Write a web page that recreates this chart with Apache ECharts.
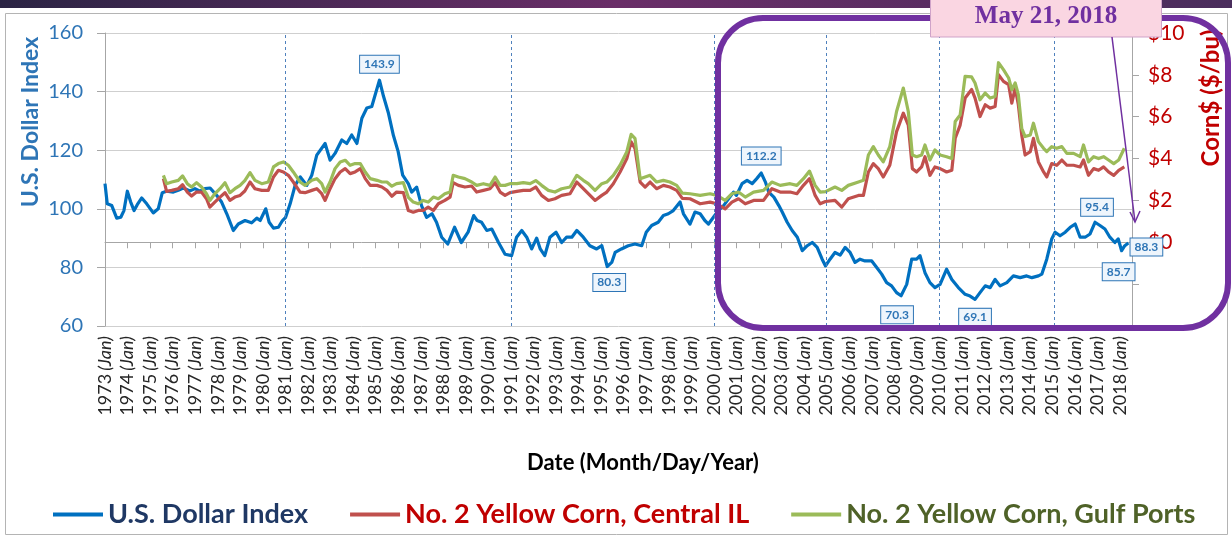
<!DOCTYPE html>
<html>
<head>
<meta charset="utf-8">
<title>U.S. Dollar Index and Corn Prices</title>
<script src="https://cdn.jsdelivr.net/npm/echarts@6/dist/echarts.min.js"></script>
<style>
  html, body { margin: 0; padding: 0; background: #fff; }
  #chart { width: 1232px; height: 539px; }
</style>
</head>
<body>
<div id="chart"></div>
<script>
// dates are decimal years (1973.5 = mid 1973)
const dollarDates = [
  1973.0, 1973.1, 1973.3, 1973.52, 1973.7, 1973.84, 1973.99, 1974.14, 1974.29, 1974.43,
  1974.63, 1974.85, 1975.14, 1975.36, 1975.54, 1975.73, 1976.03, 1976.25, 1976.47, 1976.77,
  1976.99, 1977.21, 1977.43, 1977.66, 1977.95, 1978.17, 1978.4, 1978.69, 1978.91, 1979.21,
  1979.5, 1979.73, 1979.88, 1980.13, 1980.28, 1980.47, 1980.69, 1980.87, 1981.01, 1981.21,
  1981.43, 1981.66, 1981.95, 1982.17, 1982.39, 1982.76, 1982.98, 1983.2, 1983.5, 1983.72,
  1983.94, 1984.17, 1984.39, 1984.61, 1984.83, 1985.17, 1985.35, 1985.57, 1985.79, 1986.0,
  1986.2, 1986.45, 1986.6, 1986.82, 1987.04, 1987.26, 1987.5, 1987.7, 1987.93, 1988.2,
  1988.5, 1988.8, 1989.1, 1989.35, 1989.5, 1989.7, 1989.93, 1990.15, 1990.45, 1990.74,
  1991.03, 1991.25, 1991.48, 1991.7, 1991.92, 1992.14, 1992.3, 1992.5, 1992.73, 1993.0,
  1993.25, 1993.47, 1993.7, 1993.92, 1994.21, 1994.5, 1994.8, 1995.03, 1995.27, 1995.47,
  1995.62, 1995.9, 1996.2, 1996.5, 1996.8, 1997.0, 1997.24, 1997.53, 1997.76, 1997.98,
  1998.2, 1998.5, 1998.65, 1998.94, 1999.16, 1999.39, 1999.6, 1999.76, 1999.98, 2000.2,
  2000.43, 2000.65, 2000.87, 2001.0, 2001.25, 2001.47, 2001.7, 2001.9, 2002.1, 2002.28,
  2002.43, 2002.66, 2002.88, 2003.03, 2003.25, 2003.47, 2003.7, 2003.92, 2004.14, 2004.36,
  2004.58, 2004.8, 2004.95, 2005.15, 2005.37, 2005.6, 2005.82, 2006.04, 2006.26, 2006.48,
  2006.7, 2007.0, 2007.22, 2007.44, 2007.66, 2007.88, 2008.1, 2008.3, 2008.55, 2008.77,
  2008.99, 2009.14, 2009.36, 2009.58, 2009.8, 2010.03, 2010.32, 2010.55, 2010.84, 2011.14,
  2011.36, 2011.58, 2011.8, 2012.03, 2012.25, 2012.47, 2012.69, 2012.99, 2013.28, 2013.58,
  2013.87, 2014.1, 2014.39, 2014.54, 2014.76, 2014.98, 2015.13, 2015.35, 2015.58, 2015.8,
  2016.02, 2016.24, 2016.46, 2016.68, 2016.9, 2017.12, 2017.34, 2017.56, 2017.78, 2017.93,
  2018.08, 2018.22, 2018.38
];
const dollarIndex = [
  108.6, 101.7, 101.1, 96.8, 97.1, 99.4, 106.0, 102.3, 99.4, 101.4,
  103.7, 101.7, 98.6, 100.0, 105.5, 106.0, 105.7, 106.3, 107.1, 106.1,
  106.9, 106.0, 106.9, 107.1, 104.6, 102.3, 98.3, 92.6, 94.8, 96.0,
  95.2, 96.8, 96.0, 100.0, 95.4, 93.4, 93.7, 96.0, 97.1, 101.7,
  108.0, 110.9, 108.0, 111.5, 118.3, 122.3, 116.6, 118.9, 123.5, 122.3,
  125.2, 122.3, 130.9, 134.4, 134.9, 143.9, 138.4, 132.6, 125.0, 119.5,
  111.5, 108.6, 105.7, 107.4, 101.0, 97.1, 98.3, 95.4, 90.3, 88.0,
  93.7, 88.5, 92.0, 97.7, 96.0, 95.4, 92.6, 93.1, 88.5, 84.5,
  84.0, 90.3, 92.6, 90.3, 86.3, 90.0, 86.3, 84.0, 90.3, 92.0,
  88.5, 90.3, 90.3, 92.6, 90.3, 87.4, 86.3, 87.4, 80.3, 81.7,
  85.1, 86.3, 87.4, 88.0, 87.4, 92.0, 94.3, 95.4, 97.7, 98.3,
  99.4, 102.3, 98.3, 94.8, 98.9, 98.3, 96.0, 94.8, 97.1, 99.4,
  101.1, 103.4, 105.7, 104.6, 108.6, 109.7, 108.6, 110.3, 112.2, 109.2,
  105.7, 104.0, 101.1, 98.9, 95.4, 92.6, 90.3, 85.7, 87.4, 88.5,
  86.8, 82.8, 80.5, 82.8, 85.1, 84.2, 86.8, 85.1, 81.7, 82.8,
  82.2, 82.2, 80.0, 77.7, 74.8, 73.7, 71.4, 70.3, 74.2, 82.8,
  82.8, 84.0, 78.2, 74.8, 73.1, 74.2, 79.4, 75.9, 73.1, 70.8,
  70.2, 69.1, 71.4, 73.7, 73.1, 75.9, 73.7, 74.8, 77.1, 76.5,
  77.1, 76.5, 77.1, 77.7, 82.8, 89.7, 92.0, 90.8, 92.0, 93.7,
  94.8, 90.3, 90.3, 91.4, 95.4, 94.3, 93.1, 90.3, 88.5, 89.7,
  85.7, 87.4, 88.3
];

const cornDates = [
  1975.59, 1975.73, 1975.96, 1976.25, 1976.44, 1976.65, 1976.84, 1977.06, 1977.28, 1977.5,
  1977.65, 1977.87, 1978.1, 1978.32, 1978.54, 1978.76, 1978.99, 1979.2, 1979.43, 1979.65,
  1979.95, 1980.24, 1980.47, 1980.69, 1980.91, 1981.13, 1981.35, 1981.65, 1981.87, 1982.17,
  1982.39, 1982.61, 1982.76, 1982.98, 1983.2, 1983.43, 1983.65, 1983.87, 1984.09, 1984.32,
  1984.54, 1984.76, 1985.06, 1985.28, 1985.5, 1985.72, 1985.93, 1986.23, 1986.45, 1986.67,
  1986.89, 1987.11, 1987.33, 1987.56, 1987.78, 1988.07, 1988.3, 1988.44, 1988.67, 1988.96,
  1989.26, 1989.48, 1989.78, 1990.07, 1990.3, 1990.52, 1990.74, 1990.96, 1991.26, 1991.55,
  1991.85, 1992.1, 1992.36, 1992.66, 1992.95, 1993.25, 1993.62, 1993.92, 1994.21, 1994.43,
  1994.73, 1995.03, 1995.25, 1995.54, 1995.84, 1996.14, 1996.33, 1996.5, 1996.73, 1996.95,
  1997.17, 1997.46, 1997.76, 1998.05, 1998.35, 1998.6, 1998.94, 1999.39, 1999.83, 2000.13,
  2000.5, 2000.8, 2001.09, 2001.39, 2001.76, 2002.2, 2002.57, 2002.94, 2003.38, 2003.68,
  2003.97, 2004.24, 2004.49, 2004.71, 2004.95, 2005.37, 2005.67, 2005.96, 2006.41, 2006.63,
  2006.85, 2007.07, 2007.29, 2007.51, 2007.8, 2008.1, 2008.4, 2008.62, 2008.8, 2008.99,
  2009.21, 2009.36, 2009.58, 2009.8, 2010.03, 2010.32, 2010.55, 2010.7, 2010.92, 2011.14,
  2011.43, 2011.58, 2011.8, 2012.03, 2012.25, 2012.47, 2012.62, 2012.84, 2013.07, 2013.21,
  2013.36, 2013.5, 2013.65, 2013.8, 2014.03, 2014.17, 2014.39, 2014.62, 2014.76, 2014.98,
  2015.2, 2015.43, 2015.65, 2015.95, 2016.24, 2016.39, 2016.61, 2016.84, 2017.06, 2017.28,
  2017.5, 2017.73, 2017.95, 2018.2
];
// $/bu
const centralIL = [
  3.04, 2.43, 2.48, 2.56, 2.75, 2.40, 2.21, 2.40, 2.40, 2.08,
  1.68, 1.92, 2.16, 2.37, 2.00, 2.16, 2.24, 2.45, 2.88, 2.56,
  2.48, 2.48, 3.12, 3.44, 3.36, 3.20, 2.88, 2.40, 2.37, 2.48,
  2.56, 2.32, 2.00, 2.56, 3.04, 3.36, 3.52, 3.28, 3.36, 3.52,
  3.04, 2.72, 2.72, 2.64, 2.48, 2.20, 2.40, 2.37, 1.52, 1.44,
  1.52, 1.52, 1.68, 1.52, 1.84, 2.00, 2.16, 2.85, 2.72, 2.64,
  2.69, 2.40, 2.48, 2.56, 2.85, 2.40, 2.24, 2.37, 2.43, 2.48,
  2.48, 2.64, 2.24, 2.00, 2.08, 2.24, 2.32, 2.88, 2.56, 2.32,
  2.00, 2.24, 2.40, 2.80, 3.36, 4.00, 4.80, 4.49, 2.88, 2.64,
  2.88, 2.56, 2.72, 2.64, 2.48, 2.10, 2.08, 1.84, 1.92, 1.84,
  1.60, 1.92, 2.08, 1.84, 2.00, 2.00, 2.56, 2.40, 2.40, 2.32,
  2.72, 3.04, 2.24, 1.84, 1.95, 2.00, 1.68, 2.08, 2.24, 2.24,
  3.36, 3.76, 3.52, 3.12, 3.68, 5.29, 6.17, 5.60, 3.52, 3.36,
  3.60, 4.09, 3.20, 3.60, 3.52, 3.36, 3.44, 4.97, 5.60, 6.89,
  7.30, 6.89, 6.01, 6.57, 6.41, 6.49, 8.01, 7.69, 7.53, 6.65,
  7.37, 6.57, 5.13, 4.17, 4.33, 4.97, 3.84, 3.36, 3.12, 3.76,
  3.68, 3.93, 3.68, 3.68, 3.60, 3.93, 3.20, 3.52, 3.44, 3.60,
  3.36, 3.20, 3.44, 3.60
];
const gulfPorts = [
  3.20, 2.80, 2.88, 2.96, 3.17, 2.80, 2.64, 2.85, 2.64, 2.32,
  2.00, 2.32, 2.56, 2.85, 2.37, 2.56, 2.72, 2.95, 3.33, 2.96,
  2.80, 2.88, 3.60, 3.76, 3.84, 3.68, 3.36, 2.88, 2.72, 2.96,
  3.04, 2.80, 2.40, 2.88, 3.52, 3.84, 3.92, 3.68, 3.76, 3.76,
  3.36, 3.04, 2.96, 2.88, 2.88, 2.68, 2.80, 2.85, 2.15, 1.92,
  1.84, 2.00, 1.92, 2.16, 2.08, 2.32, 2.40, 3.20, 3.12, 3.04,
  2.88, 2.72, 2.80, 2.72, 3.12, 2.72, 2.72, 2.80, 2.80, 2.85,
  2.80, 2.95, 2.72, 2.48, 2.40, 2.56, 2.64, 3.20, 2.96, 2.80,
  2.48, 2.80, 2.88, 3.20, 3.68, 4.33, 5.16, 4.97, 3.04, 3.12,
  3.20, 2.88, 2.96, 2.88, 2.72, 2.35, 2.32, 2.24, 2.32, 2.24,
  2.00, 2.32, 2.40, 2.16, 2.40, 2.48, 2.88, 2.72, 2.80, 2.72,
  3.04, 3.40, 2.72, 2.40, 2.42, 2.64, 2.48, 2.72, 2.88, 2.96,
  4.17, 4.57, 4.17, 3.84, 4.57, 6.25, 7.37, 6.25, 4.17, 4.09,
  4.17, 4.65, 3.93, 4.41, 4.17, 4.09, 4.00, 5.77, 6.09, 7.93,
  7.90, 7.61, 6.81, 7.13, 6.89, 6.97, 8.58, 8.25, 7.85, 7.29,
  7.61, 7.05, 5.45, 5.05, 5.13, 5.69, 4.81, 4.49, 4.33, 4.57,
  4.49, 4.57, 4.25, 4.25, 4.09, 4.65, 3.84, 4.09, 4.00, 4.09,
  3.93, 3.76, 3.93, 4.49
];

// boxed values on the dollar line
const calloutDates = [1985.17, 2002.1, 1995.27, 2008.3, 2011.58, 2016.9, 2018.08, 2018.38];
const calloutValues = [143.9, 112.2, 80.3, 70.3, 69.1, 95.4, 85.7, 88.3];

// dotted year markers
const markerYears = [1981, 1991, 2000, 2005, 2010, 2015.1];

const seriesNames = ['U.S. Dollar Index', 'No. 2 Yellow Corn, Central IL', 'No. 2 Yellow Corn, Gulf Ports'];

const FONT = 'Lato, "Liberation Sans", sans-serif';
const pairs = (xs, ys) => xs.map((x, i) => [x, ys[i]]);

// label offsets (px) for the boxed values, same order as calloutValues
const calloutOffsets = [[0, -16], [0, -17], [2, 16], [-4, 19], [0, 18], [2, -15], [-3, 21], [18, 4]];

const myChart = echarts.init(document.getElementById('chart'));

const option = {
  animation: false,
  backgroundColor: '#fff',
  grid: { left: 105, right: 100, top: 33, bottom: 213 },
  legend: {
    left: 48,
    top: 496,
    icon: 'rect',
    itemWidth: 50,
    itemHeight: 4,
    itemGap: 42,
    textStyle: { fontSize: 27, fontWeight: 'bold', fontFamily: FONT },
    data: [
      { name: seriesNames[0], textStyle: { color: '#1f3864' } },
      { name: seriesNames[1], textStyle: { color: '#c00000' } },
      { name: seriesNames[2], textStyle: { color: '#4f6228' } }
    ]
  },
  xAxis: {
    type: 'value',
    min: 1973,
    max: 2018.54,
    interval: 1,
    splitLine: { show: false },
    axisLine: { lineStyle: { color: '#a6a6a6', width: 1 } },
    axisTick: { length: 6, lineStyle: { color: '#a6a6a6' } },
    axisLabel: {
      rotate: 90,
      margin: 10,
      showMaxLabel: false,
      color: '#262626',
      fontFamily: FONT,
      formatter: (v) => Number.isInteger(v) ? '{y|' + v + '} {m|(Jan)}' : '',
      rich: {
        y: { fontSize: 18, color: '#262626', fontFamily: FONT },
        m: { fontSize: 18, color: '#262626', fontStyle: 'italic', fontFamily: FONT }
      }
    }
  },
  yAxis: [
    {
      type: 'value',
      min: 60,
      max: 160,
      interval: 20,
      axisLine: { show: true, lineStyle: { color: '#a6a6a6' } },
      axisTick: { show: true, length: 8, lineStyle: { color: '#a6a6a6' } },
      splitLine: { lineStyle: { color: '#cfcfcf', width: 1 } },
      axisLabel: { color: '#2e75b6', fontSize: 20, margin: 22, fontFamily: FONT }
    },
    {
      type: 'value',
      position: 'right',
      min: -4,
      max: 10,
      interval: 2,
      axisLine: { show: true, lineStyle: { color: '#a6a6a6' } },
      axisTick: { show: true, length: 7, lineStyle: { color: '#a6a6a6' } },
      splitLine: { show: false },
      axisLabel: {
        color: '#c00000',
        fontSize: 21,
        margin: 16,
        fontFamily: FONT,
        formatter: (v) => v >= 0 ? '$' + v : ''
      }
    }
  ],
  series: [
    {
      name: seriesNames[0],
      type: 'line',
      data: pairs(dollarDates, dollarIndex),
      showSymbol: false,
      color: '#0070c0',
      lineStyle: { width: 3.2, join: 'round' },
      z: 2,
      markLine: {
        silent: true,
        symbol: ['none', 'none'],
        label: { show: false },
        lineStyle: { color: '#4f81bd', type: [3, 3], width: 1 },
        data: markerYears.map((y) => ({ xAxis: y }))
      },
      markPoint: {
        symbol: 'circle',
        symbolSize: 1,
        itemStyle: { color: 'rgba(0,0,0,0)' },
        label: {
          show: true,
          position: 'inside',
          color: '#2e75b6',
          fontSize: 12,
          fontWeight: 'bold',
          fontFamily: FONT,
          backgroundColor: '#eef5fc',
          borderColor: '#2e75b6',
          borderWidth: 1,
          padding: [3, 4, 2, 4]
        },
        data: calloutValues.map((v, i) => ({
          coord: [calloutDates[i], v],
          value: v,
          label: { formatter: v.toFixed(1), offset: calloutOffsets[i] }
        }))
      }
    },
    {
      name: seriesNames[1],
      type: 'line',
      yAxisIndex: 1,
      data: pairs(cornDates, centralIL),
      showSymbol: false,
      color: '#c0504d',
      lineStyle: { width: 3.2, join: 'round' },
      z: 3
    },
    {
      name: seriesNames[2],
      type: 'line',
      yAxisIndex: 1,
      data: pairs(cornDates, gulfPorts),
      showSymbol: false,
      color: '#9bbb59',
      lineStyle: { width: 3.2, join: 'round' },
      z: 4
    }
  ],
  graphic: [
    // slide header band
    {
      type: 'rect', z: 0,
      shape: { x: 0, y: 0, width: 1232, height: 8 },
      style: {
        fill: new echarts.graphic.LinearGradient(0, 0, 1, 0, [
          { offset: 0, color: '#2b2444' },
          { offset: 0.5, color: '#6a2e68' },
          { offset: 1, color: '#4a2d5c' }
        ])
      }
    },
    // chart frame
    {
      type: 'rect', z: 0,
      shape: { x: 5.5, y: 13.5, width: 1222, height: 521 },
      style: { fill: 'none', stroke: '#b4b4b4', lineWidth: 1 }
    },
    {
      type: 'text', z: 10,
      x: 31, y: 122, rotation: Math.PI / 2,
      style: {
        text: 'U.S. Dollar Index', fill: '#2e75b6',
        font: 'bold 23px ' + FONT, textAlign: 'center', textVerticalAlign: 'middle'
      }
    },
    {
      type: 'text', z: 10,
      x: 1211, y: 98, rotation: Math.PI / 2,
      style: {
        text: 'Corn$ ($/bu)', fill: '#c00000',
        font: 'bold 24px ' + FONT, textAlign: 'center', textVerticalAlign: 'middle'
      }
    },
    {
      type: 'text', z: 10,
      x: 643, y: 463,
      style: {
        text: 'Date (Month/Day/Year)', fill: '#000',
        font: 'bold 22px ' + FONT, textAlign: 'center', textVerticalAlign: 'middle'
      }
    },
    // highlight box
    {
      type: 'rect', z: 20,
      shape: { x: 718, y: 18, width: 510, height: 310, r: 45 },
      style: { fill: 'none', stroke: '#7030a0', lineWidth: 6 }
    },
    {
      type: 'rect', z: 21,
      shape: { x: 930.5, y: -1, width: 231, height: 38 },
      style: { fill: '#fad6e2', stroke: '#cfa3c9', lineWidth: 1 }
    },
    {
      type: 'text', z: 22,
      x: 1046, y: 17,
      style: {
        text: 'May 21, 2018', fill: '#7030a0',
        font: 'bold 25px "Liberation Serif", "DejaVu Serif", serif',
        textAlign: 'center', textVerticalAlign: 'middle'
      }
    },
    {
      type: 'line', z: 22,
      shape: { x1: 1112, y1: 37, x2: 1135, y2: 222 },
      style: { stroke: '#7030a0', lineWidth: 1.5 }
    },
    {
      type: 'polyline', z: 22,
      shape: { points: [[1130, 212], [1135, 222], [1140, 211]] },
      style: { stroke: '#7030a0', lineWidth: 1.5, fill: 'none' }
    }
  ]
};

myChart.setOption(option);
</script>
</body>
</html>
